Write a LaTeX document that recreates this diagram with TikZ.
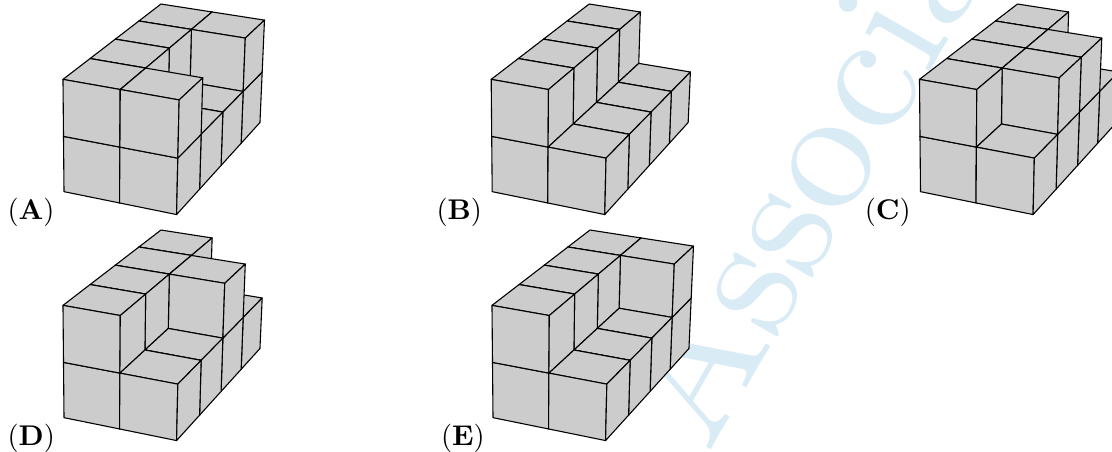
\documentclass[tikz,border=0pt]{standalone}
\definecolor{wmark}{HTML}{D9EBF5}
\definecolor{cubegray}{HTML}{CCCCCC}
\tikzset{
  cubeface/.style={fill=cubegray,draw=black,line width=1.1pt,line join=round},
  figlabel/.style={anchor=base west,inner sep=0pt,scale=2.85},
  watermark/.style={anchor=base west,inner sep=0pt,scale=17.4,rotate=60,text=wmark}
}
\newcommand{\latpt}[4]{%
  \pgfmathsetmacro{\dn}{1-0.013*#1+0.035*#2-0.015*#3}%
  \pgfmathsetmacro{\lx}{(192+162*#1+88.2*#2-4.35*#3)/\dn/3}%
  \pgfmathsetmacro{\ly}{(575+26*#1-54.4*#2-172*#3)/\dn/3}%
  \coordinate (#4) at (\lx,\ly);}
\newcommand{\onecube}[3]{%
  \pgfmathtruncatemacro{\ia}{#1+1}\pgfmathtruncatemacro{\ja}{#2+1}\pgfmathtruncatemacro{\ka}{#3+1}%
  \latpt{#1}{#2}{\ka}{p1}\latpt{\ia}{#2}{\ka}{p2}\latpt{\ia}{\ja}{\ka}{p3}\latpt{#1}{\ja}{\ka}{p4}%
  \latpt{#1}{#2}{#3}{p5}\latpt{\ia}{#2}{#3}{p6}\latpt{\ia}{\ja}{#3}{p7}%
  \draw[cubeface] (p1)--(p2)--(p3)--(p4)--cycle;
  \draw[cubeface] (p1)--(p2)--(p6)--(p5)--cycle;
  \draw[cubeface] (p2)--(p3)--(p7)--(p6)--cycle;}
\newcommand{\onerow}[2]{%
  \onecube{0}{#1}{0}\onecube{0}{#1}{1}\onecube{1}{#1}{0}%
  \ifnum#2=2 \onecube{1}{#1}{1}\fi}
\newcommand{\cubefig}[6]{%
  \begin{scope}[shift={(#1,#2)}]
    \onerow{3}{#6}\onerow{2}{#5}\onerow{1}{#4}\onerow{0}{#3}
  \end{scope}}
\begin{document}
\begin{tikzpicture}[x=1pt,y=-1pt]
  \path[use as bounding box] (0,0) rectangle (1112,452);
  \begin{scope}
    \clip (0,0) rectangle (1112,452);
    \node[watermark] (wm) at (707,458) {Associa};
  \end{scope}
  \cubefig{0}{0}{2}{1}{1}{2}
  \cubefig{428.2}{0}{1}{1}{1}{1}
  \cubefig{856.5}{0}{1}{2}{2}{1}
  \cubefig{0}{226}{1}{1}{2}{1}
  \cubefig{429}{226}{1}{1}{1}{2}
  \node[figlabel] (la) at (7,219.7) {$(\mathbf{A})$};
  \node[figlabel] (lb) at (436,219.7) {$(\mathbf{B})$};
  \node[figlabel] (lc) at (864.2,219.7) {$(\mathbf{C})$};
  \node[figlabel] (ld) at (7,445.7) {$(\mathbf{D})$};
  \node[figlabel] (le) at (440.5,445.7) {$(\mathbf{E})$};
\end{tikzpicture}
\end{document}
